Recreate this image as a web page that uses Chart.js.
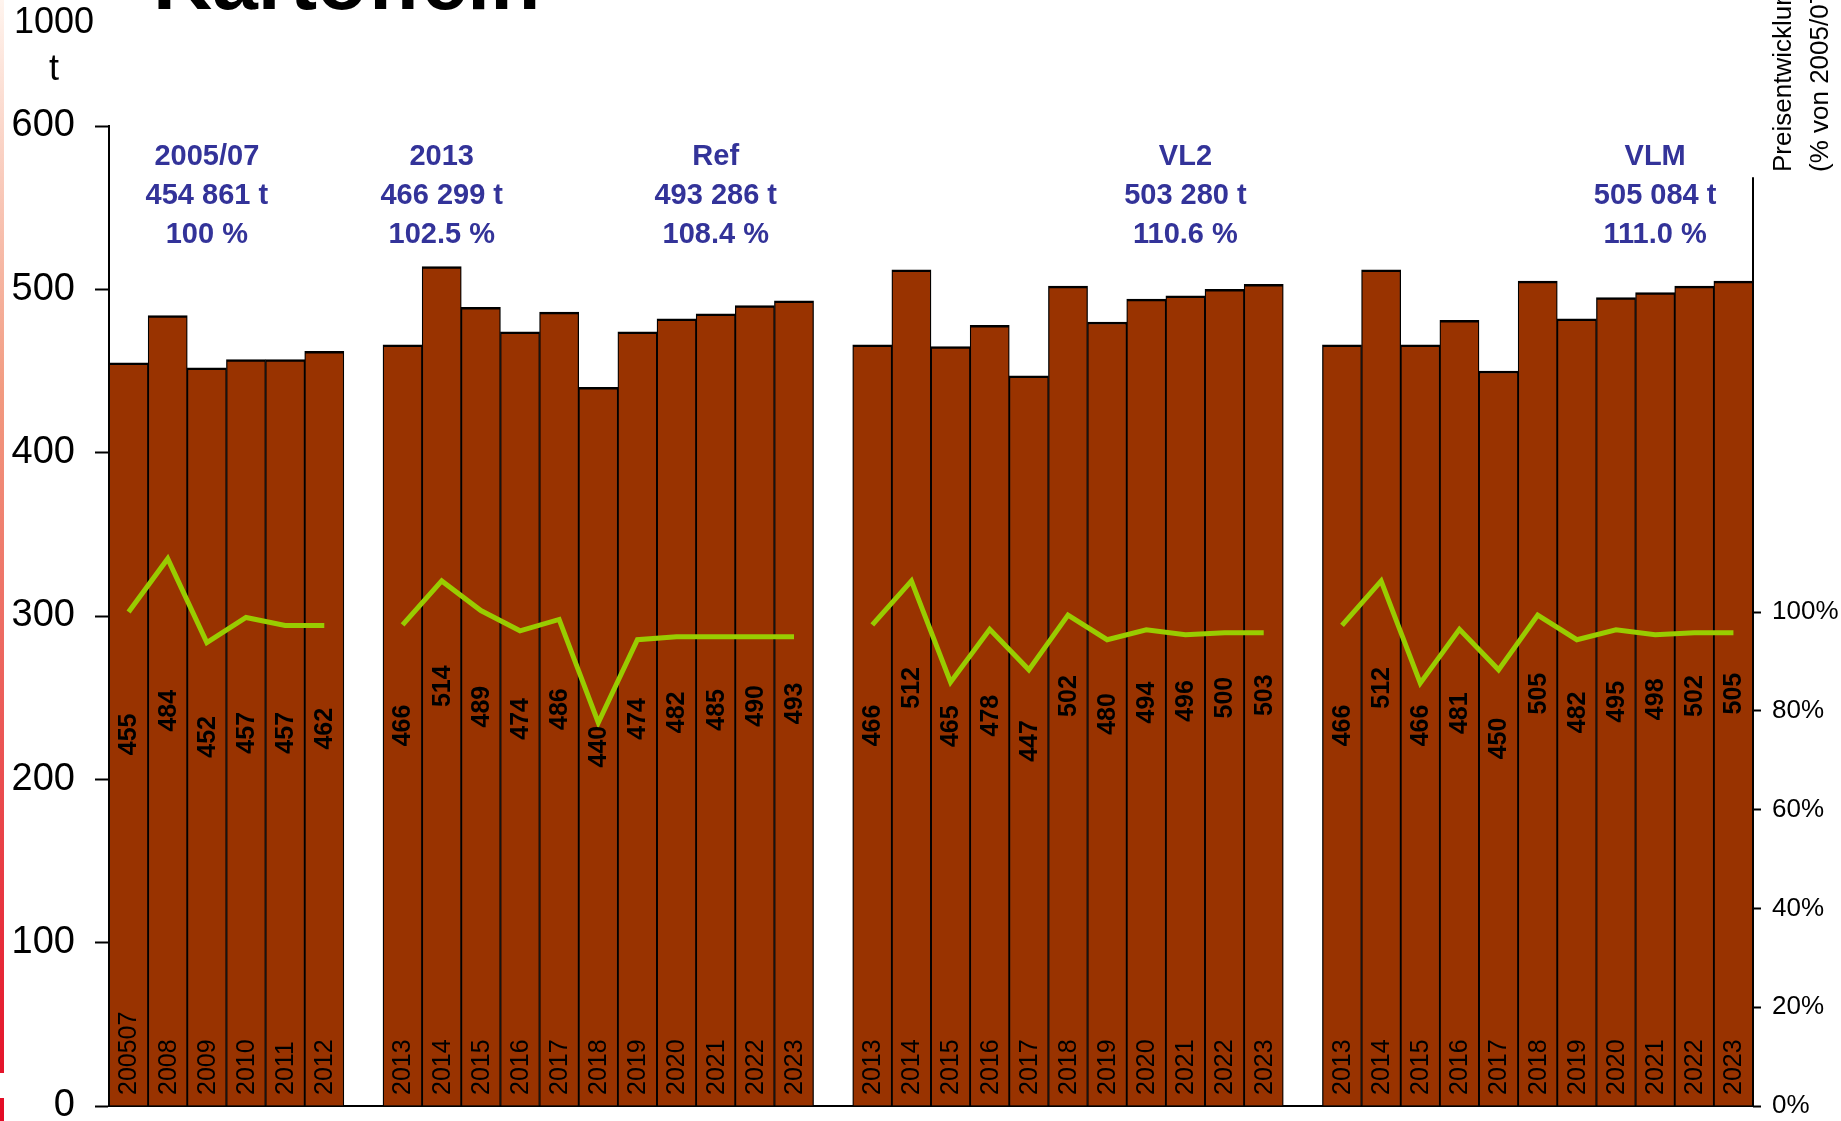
<!DOCTYPE html>
<html>
<head>
<meta charset="utf-8">
<script src="https://cdn.jsdelivr.net/npm/chart.js@4/dist/chart.umd.min.js"></script>
<style>
  body { margin: 0; background: #fff; }
  canvas { display: block; }
</style>
</head>
<body>
<canvas id="chart" width="1841" height="1121"></canvas>
<script>
// --- data ---
const yearsBase = ["200507", "2008", "2009", "2010", "2011", "2012"];
const yearsScen = ["2013", "2014", "2015", "2016", "2017", "2018", "2019", "2020", "2021", "2022", "2023"];

// Kartoffeln, 1000 t
const valuesBase = [455, 484, 452, 457, 457, 462];
const valuesRef = [466, 514, 489, 474, 486, 440, 474, 482, 485, 490, 493];
const valuesVL2 = [466, 512, 465, 478, 447, 502, 480, 494, 496, 500, 503];
const valuesVLM = [466, 512, 466, 481, 450, 505, 482, 495, 498, 502, 505];

// Preisentwicklung, % von 2005/07
const priceBase = [100.0, 110.8, 93.8, 98.9, 97.3, 97.3];
const priceRef = [97.4, 106.3, 100.3, 96.2, 98.5, 77.6, 94.4, 95.0, 95.0, 95.0, 95.0];
const priceVL2 = [97.4, 106.3, 85.8, 96.5, 88.3, 99.4, 94.4, 96.4, 95.4, 95.8, 95.8];
const priceVLM = [97.3, 106.3, 85.6, 96.5, 88.3, 99.4, 94.4, 96.4, 95.4, 95.8, 95.8];

// group headers: which category they sit over, and their three lines
const headerIndex = [2, 8, 15, 27, 39];
const headerNames = ["2005/07", "2013", "Ref", "VL2", "VLM"];
const headerTonnes = ["454 861 t", "466 299 t", "493 286 t", "503 280 t", "505 084 t"];
const headerPercent = ["100 %", "102.5 %", "108.4 %", "110.6 %", "111.0 %"];

// build the flat category list with empty slots between the groups
const labels = [...yearsBase, "", ...yearsScen, "", ...yearsScen, "", ...yearsScen];
const barData = [...valuesBase, null, ...valuesRef, null, ...valuesVL2, null, ...valuesVLM];
const lineData = [...priceBase, null, ...priceRef, null, ...priceVL2, null, ...priceVLM];

const FONT = "'Liberation Sans', Arial, sans-serif";

const decorPlugin = {
  id: "decor",
  beforeDraw(chart) {
    const ctx = chart.ctx;
    ctx.save();
    ctx.fillStyle = "#fff";
    ctx.fillRect(0, 0, chart.width, chart.height);
    // thin gradient strip on the left edge
    const g = ctx.createLinearGradient(0, 0, 0, chart.height);
    g.addColorStop(0, "#fff4ee");
    g.addColorStop(0.35, "#f29a80");
    g.addColorStop(1, "#e30a24");
    ctx.fillStyle = g;
    ctx.fillRect(0, 0, 4, 1073);
    ctx.fillRect(0, 1098, 4, chart.height - 1098);

    // title, mostly cut off at the top
    ctx.fillStyle = "#000";
    ctx.font = "bold 82px " + FONT;
    ctx.textAlign = "left";
    ctx.textBaseline = "alphabetic";
    ctx.fillText("Kartoffeln", 153, 9);

    // unit of the left axis
    ctx.font = "36px " + FONT;
    ctx.textAlign = "center";
    ctx.fillText("1000", 54, 33);
    ctx.fillText("t", 54, 80);

    // title of the right axis, reading upwards
    ctx.font = "26px " + FONT;
    ctx.textAlign = "left";
    ctx.textBaseline = "middle";
    ctx.translate(0, 172);
    ctx.rotate(-Math.PI / 2);
    ctx.fillText("Preisentwicklung", 0, 1784);
    ctx.fillText("(% von 2005/07 = 100)", 0, 1821);
    ctx.restore();
  },
  afterDatasetsDraw(chart) {
    const ctx = chart.ctx;
    const x = chart.scales.x;
    const y = chart.scales.y;
    const y2 = chart.scales.y2;
    ctx.save();

    // right axis line, stops short of the top
    ctx.strokeStyle = "#000";
    ctx.lineWidth = 2;
    ctx.beginPath();
    ctx.moveTo(y2.left, y2.getPixelForValue(0));
    ctx.lineTo(y2.left, y2.getPixelForValue(188));
    ctx.stroke();

    ctx.fillStyle = "#000";
    labels.forEach((lab, i) => {
      if (!lab) return;
      const px = x.getPixelForValue(i);
      // year inside the bar, at the bottom
      ctx.save();
      ctx.translate(px, 1095);
      ctx.rotate(-Math.PI / 2);
      ctx.font = "25px " + FONT;
      ctx.textAlign = "left";
      ctx.textBaseline = "middle";
      ctx.fillText(lab, 0, 1);
      ctx.restore();
      // value in the middle of the bar
      const v = barData[i];
      ctx.save();
      ctx.translate(px, y.getPixelForValue(v / 2));
      ctx.rotate(-Math.PI / 2);
      ctx.font = "bold 25px " + FONT;
      ctx.textAlign = "center";
      ctx.textBaseline = "middle";
      ctx.fillText(String(v), 0, 1);
      ctx.restore();
    });

    // group headers
    ctx.fillStyle = "#333399";
    ctx.font = "bold 29px " + FONT;
    ctx.textAlign = "center";
    ctx.textBaseline = "alphabetic";
    headerIndex.forEach((idx, k) => {
      const px = x.getPixelForValue(idx);
      ctx.fillText(headerNames[k], px, 165);
      ctx.fillText(headerTonnes[k], px, 204);
      ctx.fillText(headerPercent[k], px, 243);
    });
    ctx.restore();
  }
};

new Chart(document.getElementById("chart"), {
  type: "bar",
  data: {
    labels: labels,
    datasets: [
      {
        type: "line",
        data: lineData,
        yAxisID: "y2",
        borderColor: "#99cc00",
        borderWidth: 5,
        pointRadius: 0,
        spanGaps: false,
        tension: 0,
        order: 0
      },
      {
        data: barData,
        yAxisID: "y",
        backgroundColor: "#993300",
        borderColor: "#000",
        borderWidth: { top: 2.5, left: 1.3, right: 1.3, bottom: 0 },
        borderSkipped: false,
        barPercentage: 1,
        categoryPercentage: 1,
        order: 1
      }
    ]
  },
  options: {
    responsive: false,
    devicePixelRatio: 1,
    animation: false,
    layout: { padding: { top: 126, left: 0, right: 0, bottom: 0 } },
    plugins: { legend: { display: false }, tooltip: { enabled: false } },
    scales: {
      x: {
        ticks: { display: false },
        grid: { display: false },
        border: { display: true, color: "#000", width: 2 },
        afterFit(s) { s.height = 15; s.paddingLeft = 0; s.paddingRight = 0; }
      },
      y: {
        position: "left",
        min: 0,
        max: 600,
        ticks: { stepSize: 100, color: "#000", font: { family: FONT, size: 38 }, padding: 20 },
        grid: { drawOnChartArea: false, tickLength: 14, tickWidth: 2, tickColor: "#000" },
        border: { display: true, color: "#000", width: 2 },
        afterFit(s) { s.width = 109; s.paddingTop = 0; s.paddingBottom = 0; }
      },
      y2: {
        position: "right",
        min: 0,
        max: 198.4,
        afterBuildTicks(s) {
          s.ticks = [0, 20, 40, 60, 80, 100].map(v => ({ value: v }));
        },
        ticks: {
          autoSkip: false,
          color: "#000",
          font: { family: FONT, size: 26 },
          padding: 11,
          callback: v => v + "%"
        },
        grid: { drawOnChartArea: false, tickLength: 8, tickWidth: 2, tickColor: "#000" },
        border: { display: false },
        afterFit(s) { s.width = 88; s.paddingTop = 0; s.paddingBottom = 0; }
      }
    }
  },
  plugins: [decorPlugin]
});
</script>
</body>
</html>
